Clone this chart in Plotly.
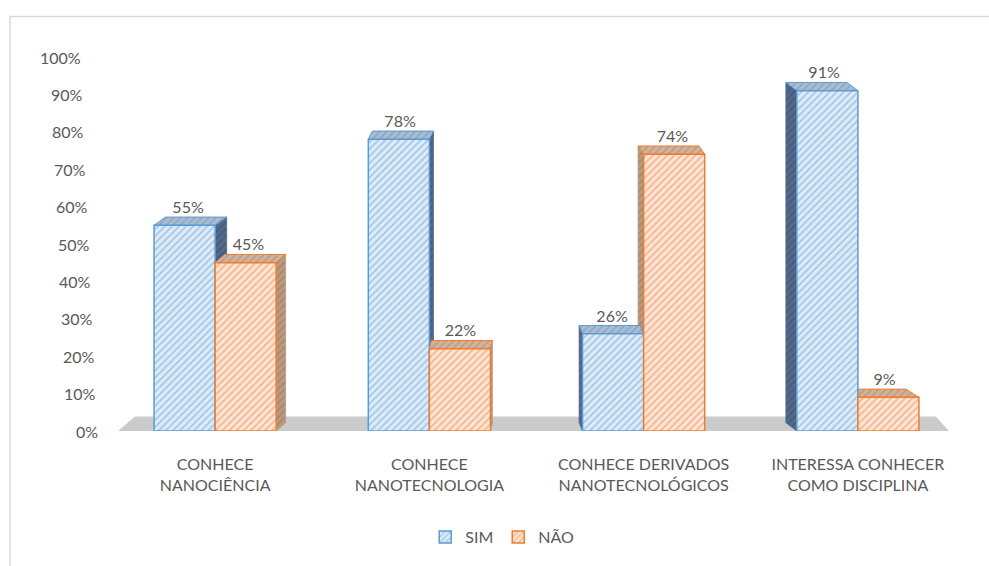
import plotly.graph_objects as go

# Survey answers per question (percent)
categories = [
    "CONHECE<br>NANOCIÊNCIA",
    "CONHECE<br>NANOTECNOLOGIA",
    "CONHECE DERIVADOS<br>NANOTECNOLÓGICOS",
    "INTERESSA CONHECER<br>COMO DISCIPLINA",
]
sim = [55, 78, 26, 91]
nao = [45, 22, 74, 9]
series_names = ["SIM", "NÃO"]
y_ticks = [0, 10, 20, 30, 40, 50, 60, 70, 80, 90, 100]
y_tick_text = [f"{t}%" for t in y_ticks]

# Styling
FONT = "Lato"
TXT = "#595959"
BAR_W = 0.285          # bar width in category units
DEPTH_Y = 2.2          # apparent depth of the 3D boxes (value units)
VANISH_X = 1.4         # horizontal vanishing point (category units)
PERSP = 0.035          # horizontal skew factor of the box depth
PLOT_L, PLOT_W = 108, 857   # plot area left edge and width (px)

styles = [
    dict(line="#5b9bd5", fg="#5b9bd5", bg="#deebf7",
         top_bg="#a9bdd2", top_fg="#6f8cac", side_bg="#52698a", side_fg="#34496a"),
    dict(line="#ed7d31", fg="#ed7d31", bg="#fce4d6",
         top_bg="#d2b29a", top_fg="#a88266", side_bg="#b89a82", side_fg="#8f725b"),
]

fig = go.Figure()

# Gray floor under the bars
floor_x = [-0.453, 3.425, 3.364, -0.374, -0.453]
floor_y = [0, 0, 3.9, 3.9, 0]
fig.add_trace(go.Scatter(x=floor_x, y=floor_y, fill="toself", mode="lines",
                         line=dict(width=0), fillcolor="#cbcbcb",
                         hoverinfo="skip", showlegend=False))

values = [sim, nao]
boxes = []
for i in range(len(categories)):
    for j, vals in enumerate(values):
        v = vals[i]
        x0 = i - BAR_W + j * BAR_W
        x1 = x0 + BAR_W
        xc = (x0 + x1) / 2
        s = -(xc - VANISH_X) * PERSP
        boxes.append((j, v, x0, x1, xc, s))

# Side faces (drawn first, below the top faces)
for j, v, x0, x1, xc, s in boxes:
    st = styles[j]
    edge = x1 if s > 0 else x0
    fig.add_trace(go.Scatter(
        x=[edge, edge, edge + s, edge + s, edge],
        y=[0, v, v + DEPTH_Y, DEPTH_Y, 0],
        fill="toself", mode="lines", line=dict(color=st["side_bg"], width=0.8),
        fillcolor=st["side_bg"],
        fillpattern=dict(shape="/", fgcolor=st["side_fg"], bgcolor=st["side_bg"],
                         size=5, solidity=0.3),
        hoverinfo="skip", showlegend=False))

# Top faces
for j, v, x0, x1, xc, s in boxes:
    st = styles[j]
    fig.add_trace(go.Scatter(
        x=[x0, x1, x1 + s, x0 + s, x0],
        y=[v, v, v + DEPTH_Y, v + DEPTH_Y, v],
        fill="toself", mode="lines", line=dict(color=st["line"], width=1),
        fillcolor=st["top_bg"],
        fillpattern=dict(shape="/", fgcolor=st["top_fg"], bgcolor=st["top_bg"],
                         size=5, solidity=0.3),
        hoverinfo="skip", showlegend=False))

# Front faces: bars on an overlaid axis pair so they sit above the box faces
for j, vals in enumerate(values):
    st = styles[j]
    xs = [i + (j - 0.5) * BAR_W for i in range(len(categories))]
    fig.add_trace(go.Bar(
        x=xs, y=vals, width=BAR_W, name=series_names[j],
        xaxis="x2", yaxis="y2",
        marker=dict(color=st["bg"], line=dict(color=st["line"], width=1.5),
                    pattern=dict(shape="/", fgcolor=st["fg"], bgcolor=st["bg"],
                                 size=5, solidity=0.3)),
        hoverinfo="skip"))

# Value labels above each box
fig.add_trace(go.Scatter(
    x=[xc + 0.3 * s for j, v, x0, x1, xc, s in boxes],
    y=[v + DEPTH_Y for j, v, x0, x1, xc, s in boxes],
    text=[f"{v}%" for j, v, x0, x1, xc, s in boxes],
    mode="text", textposition="top center",
    textfont=dict(family=FONT, size=16, color=TXT),
    xaxis="x2", yaxis="y2", hoverinfo="skip", showlegend=False))

# Value-axis labels follow the slanted left wall of the 3D frame
annotations = []
for t, label in zip(y_ticks, y_tick_text):
    right_px = 83 + 0.17 * (100 - t)
    annotations.append(dict(
        text=label, xref="paper", yref="y", x=(right_px - PLOT_L) / PLOT_W, y=t,
        xanchor="right", yanchor="middle", showarrow=False,
        font=dict(family=FONT, size=16, color=TXT)))

xr = [-0.5, 3.5]
yr = [0, 100]
fig.update_layout(
    width=989, height=566,
    margin=dict(l=PLOT_L, r=989 - PLOT_L - PLOT_W, t=57, b=129),
    paper_bgcolor="white", plot_bgcolor="white",
    font=dict(family=FONT, color=TXT),
    xaxis=dict(range=xr, tickvals=list(range(len(categories))), ticktext=categories,
               showgrid=False, zeroline=False, showline=False, ticks="",
               ticklabelstandoff=22, tickfont=dict(size=16, color=TXT)),
    yaxis=dict(range=yr, tickvals=y_ticks, showticklabels=False, showgrid=False,
               zeroline=False, showline=False, ticks=""),
    xaxis2=dict(range=xr, overlaying="x", visible=False),
    yaxis2=dict(range=yr, overlaying="y", visible=False),
    showlegend=True,
    legend=dict(orientation="h", x=0.46, xanchor="center", y=-0.284,
                yanchor="middle", font=dict(size=16, color=TXT),
                itemwidth=30, tracegroupgap=0),
    annotations=annotations,
    shapes=[dict(type="rect", xref="paper", yref="paper",
                 x0=-0.1144, x1=1.04, y0=-0.37, y1=1.108,
                 line=dict(color="#d9d9d9", width=1.5), fillcolor="rgba(0,0,0,0)",
                 layer="below")],
)

fig.write_html("out.html")
